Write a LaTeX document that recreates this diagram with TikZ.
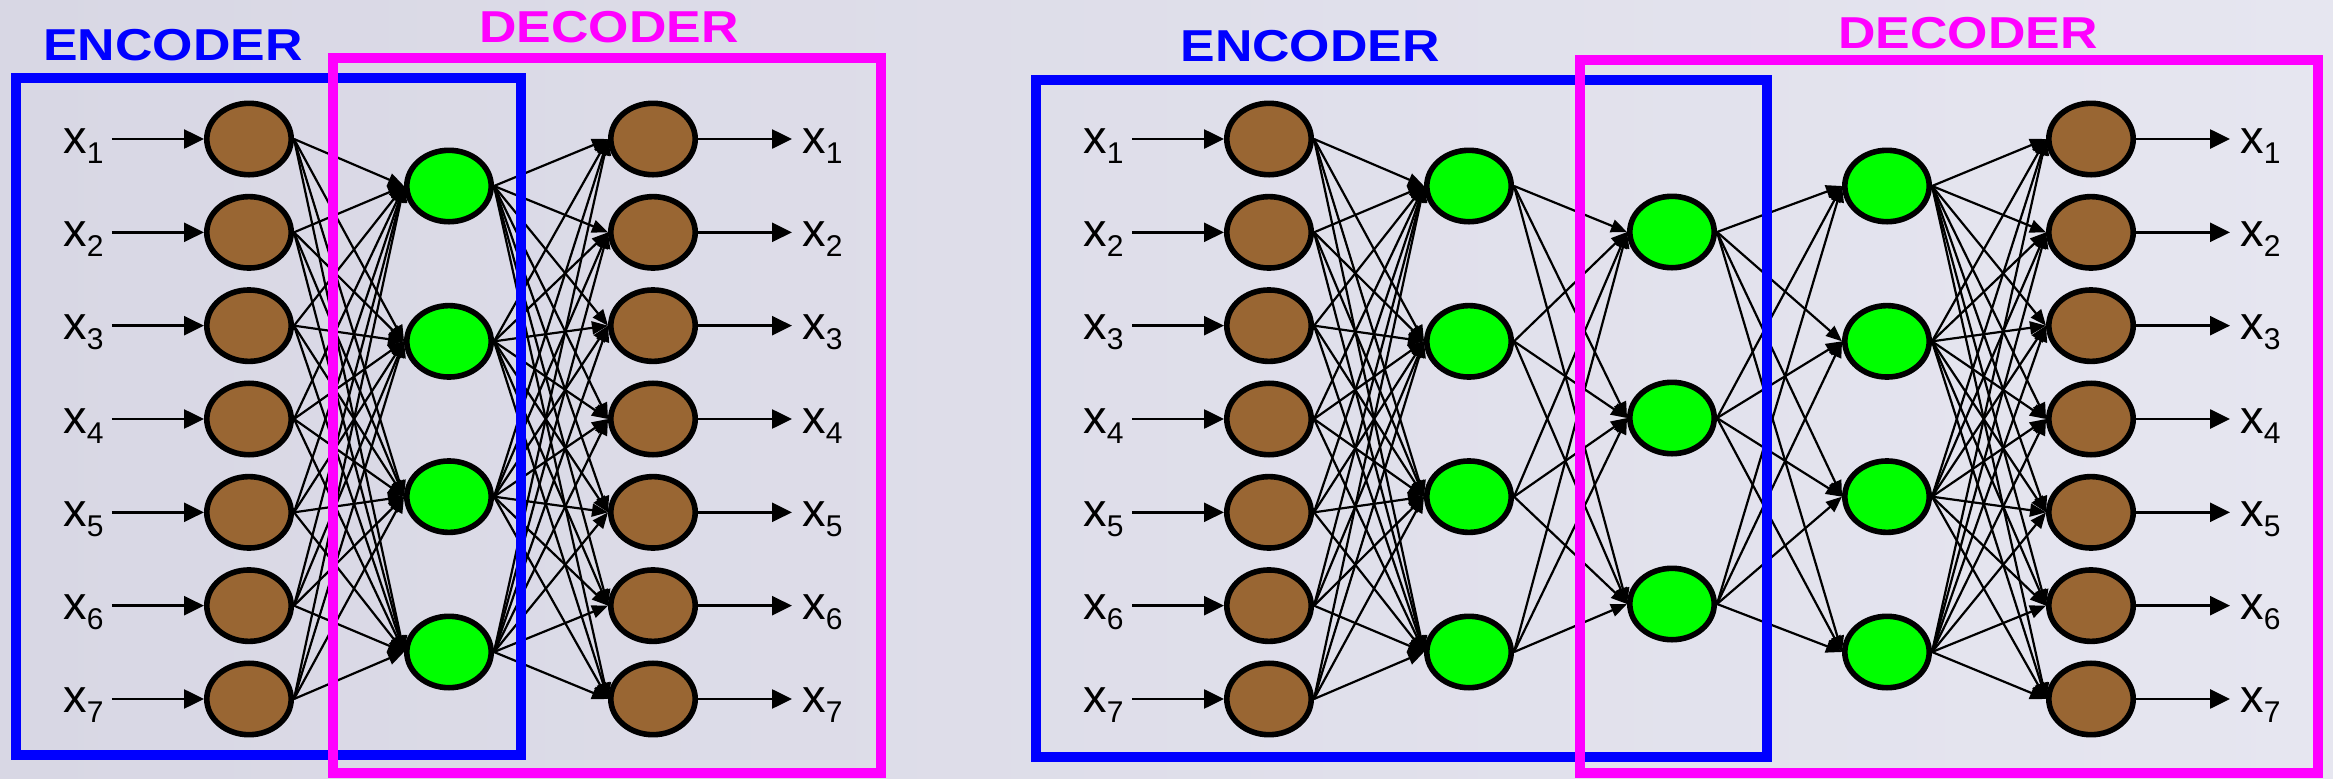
\documentclass[tikz,border=0pt]{standalone}
\usepackage{fontspec}
\setmainfont{Liberation Sans}
\usetikzlibrary{arrows.meta,shapes.geometric}
\definecolor{brownnode}{RGB}{153,102,51}
\definecolor{greennode}{RGB}{0,255,0}
\definecolor{bgL}{RGB}{216,215,228}
\definecolor{bgR}{RGB}{230,230,240}
\definecolor{encblue}{RGB}{0,0,255}
\definecolor{decpink}{RGB}{255,0,255}
\tikzset{
 neuron/.style={ellipse, draw=black, line width=2.8pt, minimum width=42.2pt, minimum height=35.7pt, inner sep=0pt},
 bneuron/.style={neuron, fill=brownnode},
 gneuron/.style={neuron, fill=greennode},
 conn/.style={line width=1.1pt, -{Triangle[length=8pt,width=6.5pt]}},
 ioarrow/.style={line width=1.3pt, -{Triangle[length=10pt,width=9.5pt]}},
 xlab/.style={anchor=base west, inner sep=0pt, font=\fontsize{23.5}{23.5}\selectfont},
 boxtitle/.style={anchor=base west, inner sep=0pt, font=\fontsize{22.35}{22.35}\selectfont\bfseries},
 encframe/.style={draw=encblue, line width=5pt},
 decframe/.style={draw=decpink, line width=5pt},
}
\newcommand{\xsub}[1]{x\raisebox{-5pt}{\fontsize{15}{15}\selectfont #1}}
\begin{document}
\begin{tikzpicture}[x=0.5pt,y=-0.5pt]
\shade[left color=bgL,right color=bgR] (0,0) rectangle (2333,778);
\path[use as bounding box] (0,0) rectangle (2333,778);

% ---------- left network ----------
\foreach \i in {1,...,7} {
  \pgfmathsetmacro\yy{139+93.33*(\i-1)}
  \node[bneuron] (Lin\i) at (249,\yy) {};
  \node[bneuron] (Lout\i) at (653,\yy) {};
  \node[xlab] (Linl\i) at (63,\yy+14) {\xsub{\i}};
  \node[xlab] (Loutl\i) at (802,\yy+14) {\xsub{\i}};
}
\foreach \j in {1,...,4} {
  \pgfmathsetmacro\yy{186+155.33*(\j-1)}
  \node[gneuron] (Lh\j) at (449,\yy) {};
}
\foreach \i in {1,...,7} {
  \draw[ioarrow] ([xshift=4pt]Linl\i.east |- Lin\i.west) -- (Lin\i.west);
  \draw[ioarrow] (Lout\i.east) -- ([xshift=-5pt]Loutl\i.west |- Lout\i.east);
  \foreach \j in {1,...,4} {
    \draw[conn] (Lin\i.east) -- (Lh\j.west);
    \draw[conn] (Lh\j.east) -- (Lout\i.west);
  }
}

% ---------- right network ----------
\foreach \i in {1,...,7} {
  \pgfmathsetmacro\yy{139+93.33*(\i-1)}
  \node[bneuron] (Rin\i) at (1269,\yy) {};
  \node[bneuron] (Rout\i) at (2091,\yy) {};
  \node[xlab] (Rinl\i) at (1083,\yy+14) {\xsub{\i}};
  \node[xlab] (Routl\i) at (2240,\yy+14) {\xsub{\i}};
}
\foreach \j in {1,...,4} {
  \pgfmathsetmacro\yy{186+155.33*(\j-1)}
  \node[gneuron] (Ra\j) at (1469,\yy) {};
  \node[gneuron] (Rc\j) at (1887,\yy) {};
}
\foreach \k in {1,...,3} {
  \pgfmathsetmacro\yy{232+186*(\k-1)}
  \node[gneuron] (Rb\k) at (1672,\yy) {};
}
\foreach \i in {1,...,7} {
  \draw[ioarrow] ([xshift=4pt]Rinl\i.east |- Rin\i.west) -- (Rin\i.west);
  \draw[ioarrow] (Rout\i.east) -- ([xshift=-5pt]Routl\i.west |- Rout\i.east);
  \foreach \j in {1,...,4} {
    \draw[conn] (Rin\i.east) -- (Ra\j.west);
    \draw[conn] (Rc\j.east) -- (Rout\i.west);
  }
}
\foreach \j in {1,...,4} {
  \foreach \k in {1,...,3} {
    \draw[conn] (Ra\j.east) -- (Rb\k.west);
    \draw[conn] (Rb\k.east) -- (Rc\j.west);
  }
}

% ---------- frames ----------
\draw[encframe] (16,78) rectangle (521,755);
\draw[decframe] (333,58) rectangle (881,773);
\draw[encframe] (1036,80) rectangle (1767,757);
\draw[decframe] (1580,60) rectangle (2318,773);

% ---------- titles ----------
\node[boxtitle, text=encblue] (Lenc) at (43,60) {\scalebox{1.16}[1]{ENCODER}};
\node[boxtitle, text=decpink] (Ldec) at (479,42) {\scalebox{1.16}[1]{DECODER}};
\node[boxtitle, text=encblue] (Renc) at (1180,61) {\scalebox{1.16}[1]{ENCODER}};
\node[boxtitle, text=decpink] (Rdec) at (1838,48) {\scalebox{1.16}[1]{DECODER}};
\end{tikzpicture}
\end{document}
